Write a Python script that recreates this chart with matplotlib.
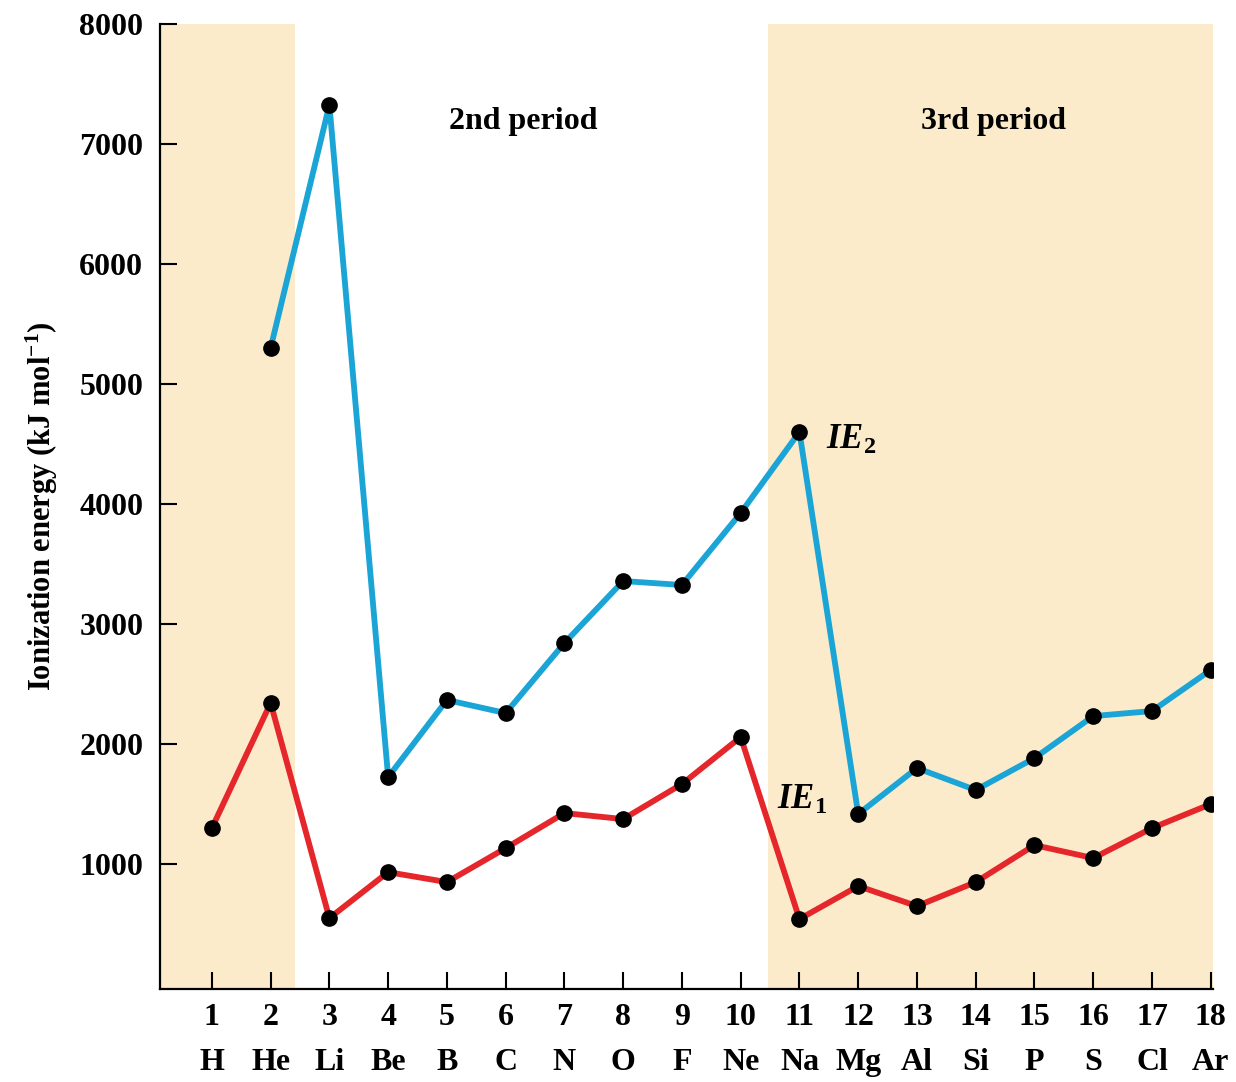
import numpy as np
import matplotlib
matplotlib.use("Agg")
import matplotlib.pyplot as plt

# atomic numbers and symbols
numbers = list(range(1, 19))
symbols = ['H', 'He', 'Li', 'Be', 'B', 'C', 'N', 'O', 'F',
           'Ne', 'Na', 'Mg', 'Al', 'Si', 'P', 'S', 'Cl', 'Ar']

# first ionization energy (kJ/mol)
ie1 = [1300, 2342, 550, 933, 850, 1133, 1425, 1375, 1667,
       2058, 542, 817, 650, 850, 1158, 1050, 1300, 1500]

# second ionization energy, starts at He
ie2_numbers = list(range(2, 19))
ie2 = [5300, 7325, 1725, 2367, 2258, 2842, 3358, 3325, 3925,
       4600, 1417, 1800, 1617, 1883, 2233, 2275, 2617]

plt.rcParams['font.family'] = ['Liberation Serif', 'DejaVu Serif']
plt.rcParams['font.weight'] = 'bold'
plt.rcParams['mathtext.fontset'] = 'custom'
plt.rcParams['mathtext.rm'] = 'Liberation Serif:bold'
plt.rcParams['mathtext.bf'] = 'Liberation Serif:bold'
plt.rcParams['mathtext.it'] = 'Liberation Serif:italic:bold'

fig = plt.figure(figsize=(12.36, 10.82), dpi=100)
ax = fig.add_axes([0.1294, 0.086, 0.8516, 0.892])

shade = '#FBEBCB'
ax.axvspan(0.0, 2.41, color=shade, lw=0, zorder=0)
ax.axvspan(10.47, 19, color=shade, lw=0, zorder=0)

ax.plot(numbers, ie1, color='#E5262B', lw=4.2, marker='o', ms=11,
        mfc='black', mec='black', zorder=3)
ax.plot(ie2_numbers, ie2, color='#1AA5D6', lw=4.2, marker='o', ms=11,
        mfc='black', mec='black', zorder=3)

ax.set_xlim(0.116, 18.03)
ax.set_ylim(-40, 8000)

ax.set_yticks([1000, 2000, 3000, 4000, 5000, 6000, 7000, 8000])
ax.set_xticks(numbers)
ax.set_xticklabels([f'{n}\n{s}' for n, s in zip(numbers, symbols)],
                   linespacing=1.75)
ax.tick_params(axis='both', direction='in', length=12, width=1.5,
               labelsize=23, colors='black')
ax.tick_params(axis='x', pad=10)
ax.tick_params(axis='y', pad=12)

for side in ['top', 'right']:
    ax.spines[side].set_visible(False)
for side in ['left', 'bottom']:
    ax.spines[side].set_linewidth(1.6)

ax.set_ylabel(r'Ionization energy (kJ mol$^{-1}$)', fontsize=22,
              fontweight='bold', labelpad=14)

ax.text(6.3, 7190, '2nd period', fontsize=23, fontweight='bold', ha='center', va='center')
ax.text(14.3, 7190, '3rd period', fontsize=23, fontweight='bold', ha='center', va='center')
ax.text(11.45, 4530, r'$\mathit{IE}_2$', fontsize=25, ha='left', va='center')
ax.text(10.62, 1530, r'$\mathit{IE}_1$', fontsize=25, ha='left', va='center')

fig.savefig('out.png', dpi=100)
